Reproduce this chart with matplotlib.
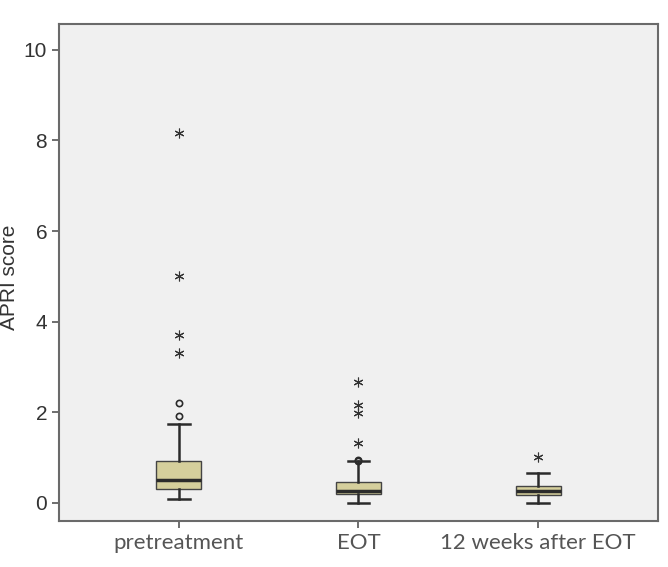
import matplotlib
matplotlib.use("Agg")
import matplotlib.pyplot as plt

# groups and box statistics
groups = ["pretreatment", "EOT", "12 weeks after EOT"]
q1 = [0.31, 0.20, 0.18]
med = [0.51, 0.26, 0.27]
q3 = [0.93, 0.46, 0.38]
whislo = [0.09, 0.00, 0.00]
whishi = [1.74, 0.93, 0.66]

# mild outliers (circles) and extreme outliers (stars)
circles = [[1.92, 2.20], [0.93, 0.95], []]
stars = [[3.31, 3.71, 5.01, 8.17], [1.33, 1.99, 2.16, 2.67], [1.02]]

yticks = [0, 2, 4, 6, 8, 10]

fill = "#d5cf9c"
edge = "#2b2b2b"

fig = plt.figure(figsize=(6.68, 5.67), dpi=100)
ax = fig.add_axes([0.0883, 0.0811, 0.8967, 0.8766])
ax.set_facecolor("#f0f0f0")

stats = []
for i, g in enumerate(groups):
    stats.append(dict(label=g, q1=q1[i], med=med[i], q3=q3[i],
                      whislo=whislo[i], whishi=whishi[i], fliers=[]))

ax.bxp(stats, positions=[1, 2, 3], widths=0.25, patch_artist=True,
       showfliers=False,
       boxprops=dict(facecolor=fill, edgecolor="#444444", linewidth=1.0),
       medianprops=dict(color=edge, linewidth=2.5),
       whiskerprops=dict(color=edge, linewidth=1.8),
       capprops=dict(color=edge, linewidth=1.8),
       capwidths=0.12)

for i in range(len(groups)):
    if circles[i]:
        ax.plot([i + 1] * len(circles[i]), circles[i], ls="none", marker="o",
                ms=4.5, mfc="none", mec=edge, mew=1.2)
    if stars[i]:
        ax.plot([i + 1] * len(stars[i]), stars[i], ls="none", marker=(6, 2, 0),
                ms=7, mec="#333333", mew=0.8)

ax.set_xlim(0.333, 3.667)
ax.set_ylim(-0.4, 10.57)
ax.set_yticks(yticks)
ax.set_xticks([1, 2, 3])
ax.set_xticklabels(groups, fontsize=16, family="Lato", color="#1a1a1a")
ax.tick_params(axis="y", labelsize=15, colors="#555555", length=5, width=1.2,
               labelcolor="#333333")
ax.tick_params(axis="x", colors="#555555", length=5, width=1.2)
for lab in ax.get_yticklabels():
    lab.set_family("Liberation Sans")
ax.set_ylabel("APRI score", fontsize=15, family="Liberation Sans",
              color="#333333", va="center")
ax.yaxis.set_label_coords(-0.082, 0.49)

for s in ax.spines.values():
    s.set_color("#6a6a6a")
    s.set_linewidth(1.5)

fig.savefig("out.png", dpi=100, facecolor="white")
